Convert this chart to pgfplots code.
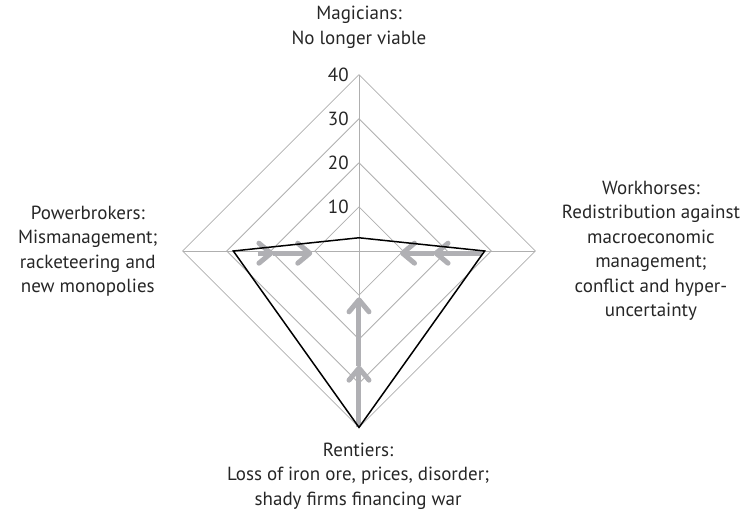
\documentclass[border=0pt]{standalone}
\usepackage{pgfplots}
\pgfplotsset{compat=1.18}
\usepackage{fontspec}
\setmainfont{PT Sans}
\usetikzlibrary{arrows.meta}

\definecolor{gridgray}{RGB}{175,175,175}
\definecolor{arrowgray}{RGB}{176,176,180}

\tikzset{
  lbl/.style={font=\fontsize{19bp}{24.5bp}\selectfont, align=center, text=black!85},
  barb/.style={arrowgray, line width=5bp, -{Straight Barb[length=12bp,width=20bp,round]}},
}

\begin{document}
\begin{tikzpicture}
\useasboundingbox (-359bp,-260bp) rectangle (385bp,251bp);
\begin{axis}[
    anchor=origin,
    at={(0,0)},
    x=4.41bp, y=4.41bp,
    xmin=-40, xmax=40, ymin=-40, ymax=40,
    axis lines=none,
    clip=false,
]
% grid diamonds
\addplot[gridgray, line width=0.8bp] coordinates {(0,10) (10,0) (0,-10) (-10,0) (0,10)};
\addplot[gridgray, line width=0.8bp] coordinates {(0,20) (20,0) (0,-20) (-20,0) (0,20)};
\addplot[gridgray, line width=0.8bp] coordinates {(0,30) (30,0) (0,-30) (-30,0) (0,30)};
\addplot[gridgray, line width=0.8bp] coordinates {(0,40) (40,0) (0,-40) (-40,0) (0,40)};
% spokes
\addplot[gridgray, line width=0.8bp] coordinates {(0,0) (0,40)};
\addplot[gridgray, line width=0.8bp] coordinates {(0,0) (40,0)};
\addplot[gridgray, line width=0.8bp] coordinates {(0,0) (0,-40)};
\addplot[gridgray, line width=0.8bp] coordinates {(0,0) (-40,0)};

% gray arrows
\addplot[barb] coordinates {(28,-0.5) (16.9,-0.5)};
\addplot[barb] coordinates {(16.9,-0.5) (9.3,-0.5)};
\addplot[barb] coordinates {(-23,-0.5) (-19.4,-0.5)};
\addplot[barb] coordinates {(-19.4,-0.5) (-10.6,-0.5)};
\addplot[barb] coordinates {(0,-40) (0,-26)};
\addplot[barb] coordinates {(0,-26) (0,-10.5)};

% black series
\addplot[black, line width=1.5bp] coordinates {(0,3) (28.5,0) (0,-40) (-28.5,0) (0,3)};

% tick labels
\foreach \v in {10,20,30,40} {
  \edef\temp{\noexpand\node[lbl, anchor=east, inner sep=0pt] at (axis cs:-2.3,\v) {\v};}
  \temp
}

% category labels
\node[lbl] at (axis cs:0,50.7) {Magicians:\\No longer viable};
\node[lbl] at (axis cs:66.2,0) {Workhorses:\\Redistribution against\\macroeconomic\\management;\\conflict and hyper-\\uncertainty};
\node[lbl] at (axis cs:-61.5,0) {Powerbrokers:\\Mismanagement;\\racketeering and\\new monopolies};
\node[lbl] at (axis cs:-0.2,-51) {Rentiers:\\Loss of iron ore, prices, disorder;\\shady firms financing war};
\end{axis}
\end{tikzpicture}
\end{document}
